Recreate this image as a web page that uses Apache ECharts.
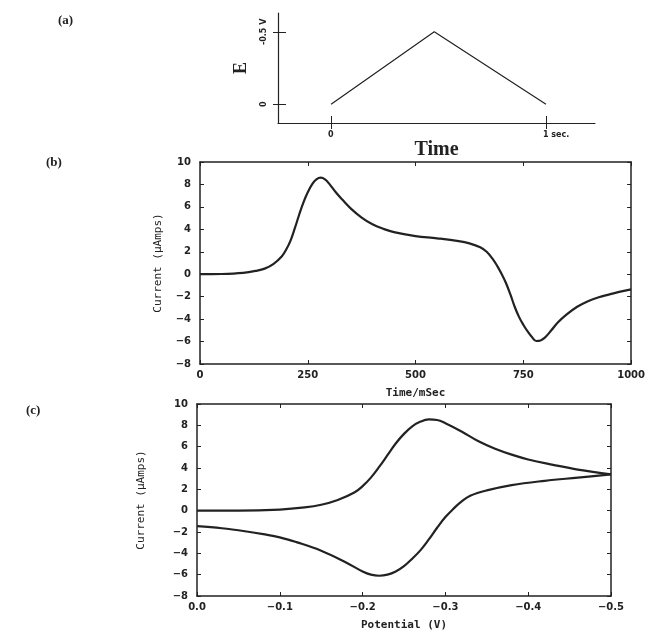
<!DOCTYPE html>
<html><head><meta charset="utf-8">
<script src="https://cdn.jsdelivr.net/npm/echarts@6/dist/echarts.min.js"></script>
<style>html,body{margin:0;padding:0;background:#fff}#c{width:648px;height:634px}</style>
</head><body><div id="c"></div>
<script>
// ---- panel (a): applied potential waveform ----
const aTime = [0, 0.48, 1];
const aPotential = [0, 0.5, 0];
const aXTicks = [0, 1];
const aYTicks = [0, 0.5];

// ---- panel (b): current vs time ----
const bTime = [0, 50, 100, 130, 150, 170, 190, 200, 210, 220, 230, 240, 250, 260, 270, 280, 290, 300, 315, 330, 350, 375, 400, 425, 450, 500, 550, 600, 625, 650, 665, 680, 690, 700, 710, 720, 730, 740, 750, 760, 770, 780, 790, 800, 815, 830, 850, 875, 900, 925, 950, 975, 1000];
const bCurrent = [0, 0.02, 0.12, 0.3, 0.5, 0.9, 1.6, 2.2, 3.0, 4.1, 5.3, 6.4, 7.3, 8.0, 8.45, 8.6, 8.45, 8.05, 7.3, 6.65, 5.85, 5.05, 4.45, 4.05, 3.75, 3.4, 3.2, 2.95, 2.75, 2.4, 2.0, 1.3, 0.7, 0.0, -0.8, -1.8, -2.9, -3.8, -4.5, -5.1, -5.6, -5.95, -5.9, -5.65, -5.0, -4.3, -3.6, -2.9, -2.4, -2.05, -1.8, -1.55, -1.35];
const bXTicks = [0, 250, 500, 750, 1000];
const bYTicks = [-8, -6, -4, -2, 0, 2, 4, 6, 8, 10];

// ---- panel (c): cyclic voltammogram ----
const cFwdPotential = [0, -0.05, -0.1, -0.13, -0.15, -0.17, -0.19, -0.2, -0.21, -0.22, -0.23, -0.24, -0.25, -0.26, -0.27, -0.28, -0.29, -0.3, -0.32, -0.34, -0.36, -0.38, -0.4, -0.43, -0.46, -0.5];
const cFwdCurrent = [0, 0.0, 0.1, 0.3, 0.55, 1.0, 1.7, 2.3, 3.1, 4.1, 5.2, 6.3, 7.2, 7.9, 8.35, 8.55, 8.5, 8.2, 7.4, 6.5, 5.8, 5.25, 4.8, 4.3, 3.85, 3.4];
const cRevPotential = [-0.5, -0.46, -0.42, -0.38, -0.35, -0.33, -0.32, -0.31, -0.3, -0.29, -0.28, -0.27, -0.26, -0.25, -0.24, -0.23, -0.22, -0.21, -0.2, -0.18, -0.15, -0.12, -0.1, -0.08, -0.06, -0.03, 0];
const cRevCurrent = [3.4, 3.1, 2.8, 2.4, 1.9, 1.4, 0.9, 0.2, -0.6, -1.6, -2.7, -3.7, -4.5, -5.2, -5.7, -6.0, -6.1, -6.0, -5.7, -4.85, -3.75, -2.95, -2.5, -2.2, -1.95, -1.65, -1.45];
const cXTicks = [0, -0.1, -0.2, -0.3, -0.4, -0.5];

const INK = '#222222';
const minus = v => (v < 0 ? '\u2212' + Math.abs(v) : String(v));
const pair = (xs, ys) => xs.map((x, i) => [x, ys[i]]);
const tickFont = { color: INK, fontSize: 10, fontWeight: 'bold', fontFamily: 'DejaVu Sans' };
const line = { show: true, onZero: false, lineStyle: { color: INK, width: 1.5 } };

const chart = echarts.init(document.getElementById('c'), null, { renderer: 'canvas' });

function boxAxes(gridIndex, xMin, xMax, xInt, yMin, yMax, yInt, xInverse, xFmt, xName, yName, yGap) {
  const xs = [
    { gridIndex, type: 'value', position: 'bottom', min: xMin, max: xMax, interval: xInt, inverse: xInverse,
      axisLine: line, axisTick: { inside: true, length: 4, lineStyle: { color: INK } },
      axisLabel: Object.assign({ margin: 6, formatter: xFmt }, tickFont), splitLine: { show: false },
      name: xName, nameLocation: 'middle', nameGap: 24,
      nameTextStyle: { color: INK, fontSize: 11, fontWeight: 'bold', fontFamily: 'DejaVu Sans Mono' } },
    { gridIndex, type: 'value', position: 'top', min: xMin, max: xMax, interval: xInt, inverse: xInverse,
      axisLine: line, axisTick: { inside: true, length: 4, lineStyle: { color: INK } },
      axisLabel: { show: false }, splitLine: { show: false } }
  ];
  const ys = [
    { gridIndex, type: 'value', position: 'left', min: yMin, max: yMax, interval: yInt,
      axisLine: line, axisTick: { inside: true, length: 4, lineStyle: { color: INK } },
      axisLabel: Object.assign({ margin: 9, formatter: minus }, tickFont), splitLine: { show: false },
      name: yName, nameLocation: 'middle', nameRotate: 90, nameGap: yGap,
      nameTextStyle: { color: INK, fontSize: 11, fontFamily: 'DejaVu Sans Mono' } },
    { gridIndex, type: 'value', position: 'right', min: yMin, max: yMax, interval: yInt,
      axisLine: line, axisTick: { inside: true, length: 4, lineStyle: { color: INK } },
      axisLabel: { show: false }, splitLine: { show: false } }
  ];
  return { xs, ys };
}

const B = boxAxes(1, 0, 1000, 250, -8, 10, 2, false, v => String(v), 'Time/mSec', 'Current (\u03bcAmps)', 36);
const C = boxAxes(2, -0.5, 0, 0.1, -8, 10, 2, true,
  v => (Math.abs(v) < 1e-9 ? '0.0' : '\u2212' + Math.abs(v).toFixed(1)), 'Potential (V)', 'Current (\u03bcAmps)', 50);

const option = {
  backgroundColor: '#ffffff',
  animation: false,
  title: [
    { text: '(a)', left: 53, top: 9, textStyle: { color: INK, fontSize: 13, fontWeight: 'bold', fontFamily: 'Liberation Serif' } },
    { text: '(b)', left: 41, top: 151, textStyle: { color: INK, fontSize: 13, fontWeight: 'bold', fontFamily: 'Liberation Serif' } },
    { text: '(c)', left: 21, top: 399, textStyle: { color: INK, fontSize: 13, fontWeight: 'bold', fontFamily: 'Liberation Serif' } }
  ],
  grid: [
    { left: 278, top: 13, width: 317, height: 110 },
    { left: 200, top: 162, width: 432, height: 202 },
    { left: 197, top: 404, width: 414, height: 192 }
  ],
  xAxis: [
    { gridIndex: 0, type: 'value', position: 'bottom', min: -0.247, max: 1.228,
      axisLine: { show: true, onZero: false, lineStyle: { color: INK, width: 1.2 } },
      axisTick: { show: true, inside: false, length: 6, customValues: aXTicks, lineStyle: { color: INK } },
      axisLabel: { customValues: aXTicks, align: 'left', padding: [0, 0, 0, -3], margin: 8,
        formatter: v => (v === 1 ? '1 sec.' : '0'), color: INK, fontSize: 8, fontWeight: 'bold', fontFamily: 'DejaVu Sans' },
      splitLine: { show: false },
      name: 'Time', nameLocation: 'middle', nameGap: 10,
      nameTextStyle: { color: INK, fontSize: 20, fontWeight: 'bold', fontFamily: 'Liberation Serif', verticalAlign: 'top' } },
    { gridIndex: 0, type: 'value', position: 'bottom', min: -0.247, max: 1.228,
      axisLine: { show: false, onZero: false }, axisTick: { show: true, inside: true, length: 7, customValues: aXTicks, lineStyle: { color: INK } },
      axisLabel: { show: false }, splitLine: { show: false } },
    ...B.xs, ...C.xs
  ],
  yAxis: [
    { gridIndex: 0, type: 'value', position: 'left', min: -0.129, max: 0.63,
      axisLine: { show: true, onZero: false, lineStyle: { color: INK, width: 1.2 } },
      axisTick: { show: true, inside: false, length: 5, customValues: aYTicks, lineStyle: { color: INK } },
      axisLabel: { customValues: aYTicks, rotate: 90, margin: 10,
        formatter: v => (v === 0 ? '0' : '-0.5 V'), color: INK, fontSize: 8, fontWeight: 'bold', fontFamily: 'DejaVu Sans' },
      splitLine: { show: false },
      name: 'E', nameLocation: 'middle', nameRotate: 90, nameGap: 28,
      nameTextStyle: { color: INK, fontSize: 18, fontWeight: 'bold', fontFamily: 'Liberation Serif' } },
    { gridIndex: 0, type: 'value', position: 'left', min: -0.129, max: 0.63,
      axisLine: { show: false, onZero: false }, axisTick: { show: true, inside: true, length: 8, customValues: aYTicks, lineStyle: { color: INK } },
      axisLabel: { show: false }, splitLine: { show: false } },
    ...B.ys, ...C.ys
  ],
  series: [
    { type: 'line', xAxisIndex: 0, yAxisIndex: 0, data: pair(aTime, aPotential), symbol: 'none',
      lineStyle: { color: INK, width: 1.2 } },
    { type: 'line', xAxisIndex: 2, yAxisIndex: 2, data: pair(bTime, bCurrent), symbol: 'none', smooth: 0.4,
      lineStyle: { color: INK, width: 2.2 } },
    { type: 'line', xAxisIndex: 4, yAxisIndex: 4, data: pair(cFwdPotential, cFwdCurrent), symbol: 'none', smooth: 0.4,
      lineStyle: { color: INK, width: 2.2 } },
    { type: 'line', xAxisIndex: 4, yAxisIndex: 4, data: pair(cRevPotential, cRevCurrent), symbol: 'none', smooth: 0.4,
      lineStyle: { color: INK, width: 2.2 } }
  ]
};
chart.setOption(option);
</script>
</body></html>
